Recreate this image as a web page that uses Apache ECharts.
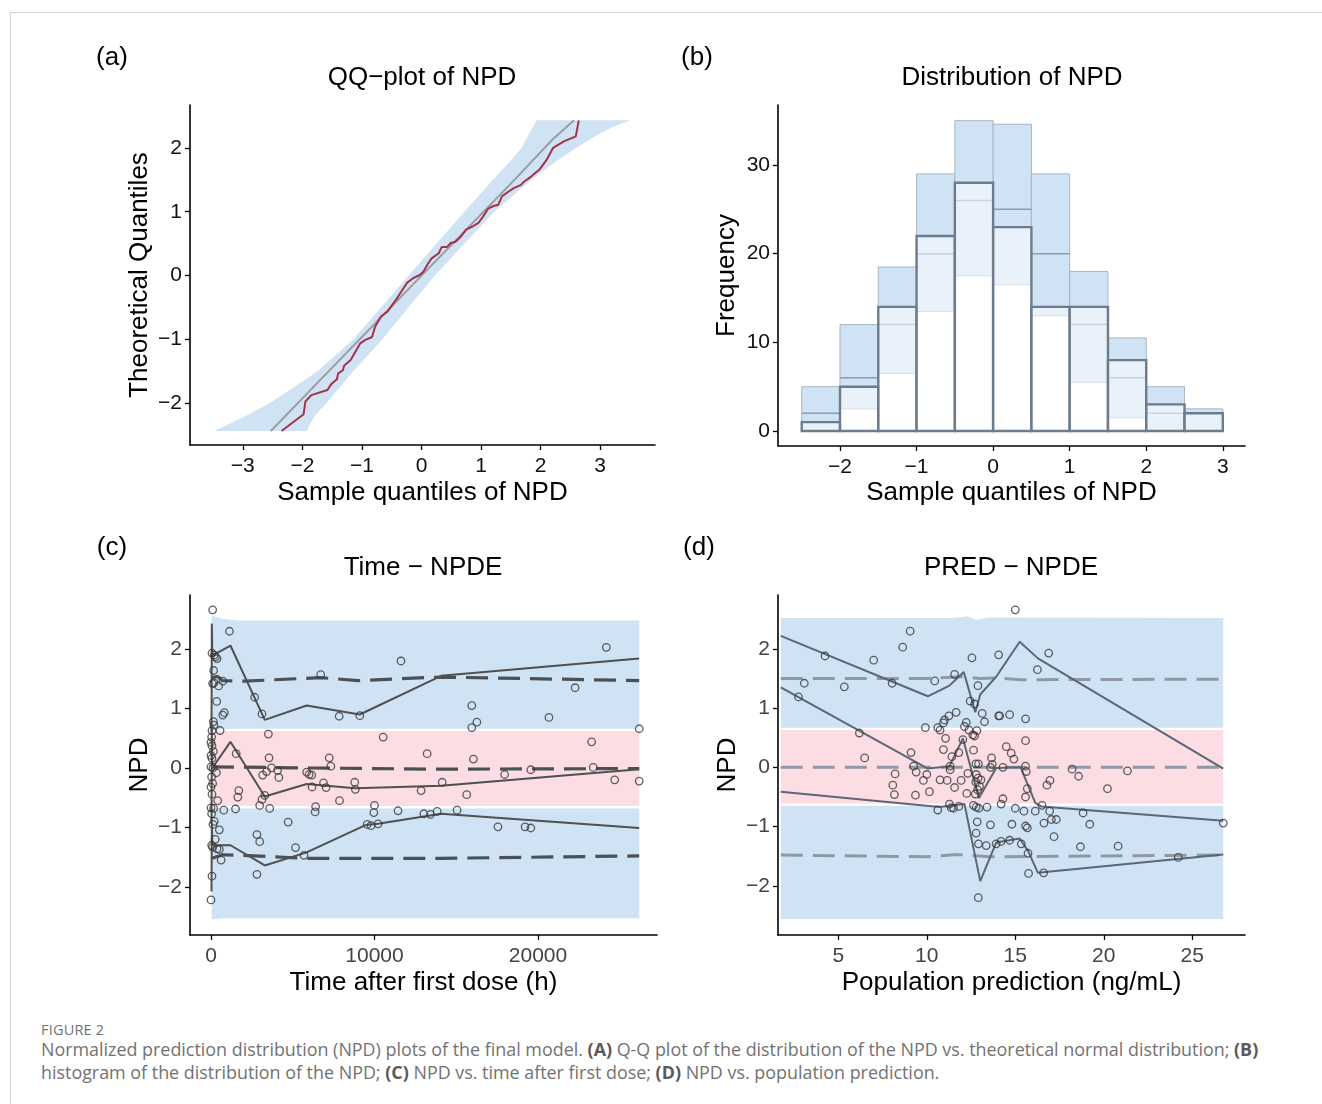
<!DOCTYPE html>
<html>
<head>
<meta charset="utf-8">
<title>NPD plots</title>
<script src="https://cdn.jsdelivr.net/npm/echarts@6/dist/echarts.min.js"></script>
<style>
  html, body { margin: 0; padding: 0; background: #fff; }
  #page { position: relative; width: 1322px; height: 1104px; overflow: hidden; }
  #frame { position: absolute; left: 10px; top: 12px; right: -2px; bottom: -2px;
    border-top: 1px solid #d4d4d4; border-left: 1px solid #d4d4d4; }
  #chart { position: absolute; left: 0; top: 0; width: 1322px; height: 1010px; }
  .cap { position: absolute; left: 41px; white-space: nowrap; color: #727272;
    font-family: "Open Sans", "Noto Sans", sans-serif; }
  .cap b { color: #5a5a5a; }
  #figno { top: 1020px; font-size: 14.5px; line-height: 20px; letter-spacing: 0.2px; }
  #line1 { top: 1037px; font-size: 17.9px; line-height: 25px; }
  #line2 { top: 1060px; font-size: 17.9px; line-height: 25px; }
</style>
</head>
<body>
<div id="page">
  <div id="frame"></div>
  <div id="chart"></div>
  <div class="cap" id="figno">FIGURE 2</div>
  <div class="cap" id="line1">Normalized prediction distribution (NPD) plots of the final model. <b>(A)</b> Q-Q plot of the distribution of the NPD vs. theoretical normal distribution; <b>(B)</b></div>
  <div class="cap" id="line2">histogram of the distribution of the NPD; <b>(C)</b> NPD vs. time after first dose; <b>(D)</b> NPD vs. population prediction.</div>
</div>
<script>
// ---- (a) QQ plot: [sample quantile, theoretical quantile]
const qqObserved = [
  [-2.35, -2.43], [-1.98, -2.17], [-1.95, -1.97], [-1.85, -1.87], [-1.58, -1.79], [-1.51, -1.69],
  [-1.42, -1.62], [-1.40, -1.53], [-1.32, -1.48], [-1.30, -1.41], [-1.19, -1.32], [-1.03, -1.06],
  [-0.95, -1.01], [-0.83, -0.96], [-0.78, -0.80], [-0.68, -0.64], [-0.57, -0.56], [-0.43, -0.38],
  [-0.36, -0.28], [-0.24, -0.11], [-0.14, -0.04], [-0.03, 0.01], [0.03, 0.06], [0.11, 0.19],
  [0.17, 0.27], [0.29, 0.35], [0.34, 0.45], [0.43, 0.45], [0.49, 0.51], [0.57, 0.53], [0.66, 0.61],
  [0.75, 0.72], [0.86, 0.77], [0.95, 0.82], [1.03, 0.92], [1.12, 1.05], [1.21, 1.09], [1.29, 1.11],
  [1.35, 1.24], [1.47, 1.32], [1.55, 1.37], [1.67, 1.42], [1.72, 1.47], [1.84, 1.55], [1.98, 1.66],
  [2.10, 1.81], [2.21, 2.00], [2.39, 2.10], [2.59, 2.18], [2.64, 2.43],
]
const qqMedian = [
  [-2.53, -2.43], [-1.5, -1.44], [-0.5, -0.48], [0, 0], [0.5, 0.48], [1.5, 1.44], [2.2, 2.13], [2.56, 2.43],
]
const qqBandLeft = [
  [-3.48, -2.43], [-3.0, -2.22], [-2.56, -2.0], [-2.2, -1.78], [-1.75, -1.5], [-1.45, -1.25], [-1.15, -1.0],
  [-0.68, -0.5], [-0.22, 0], [0.25, 0.5], [0.72, 1.0], [1.2, 1.5], [1.5, 1.8], [1.68, 2.0], [1.93, 2.43],
]
const qqBandRight = [
  [3.51, 2.43], [3.2, 2.32], [2.95, 2.2], [2.6, 2.0], [2.2, 1.75], [1.85, 1.5], [1.22, 1.0],
  [0.72, 0.5], [0.22, 0], [-0.22, -0.5], [-0.66, -1.0], [-1.15, -1.5], [-1.6, -2.0], [-1.8, -2.2], [-1.93, -2.43],
]

// ---- (b) histogram, bins of width 0.5
const binStart = [-2.5, -2, -1.5, -1, -0.5, 0, 0.5, 1, 1.5, 2, 2.5]
const binWidth = 0.5
const obsCount = [1, 5, 14, 22, 28, 23, 14, 14, 8, 3, 2]
const piLower = [0, 2.5, 6.5, 13.5, 17.5, 16.5, 13, 5.5, 1.5, 0, 0]
const piMedian = [2, 6, 12, 20, 26, 25, 20, 12, 6, 2, 2]
const piUpper = [5, 12, 18.5, 29, 35, 34.6, 29, 18, 10.5, 5, 2.5]

// ---- (c) NPD vs time after first dose: [time, npd]
const timePoints = [
  [100, 2.66], [1130, 2.30], [60, 1.93], [200, 1.90], [280, 1.87], [370, 1.84], [160, 1.64], [100, 1.42],
  [180, 1.43], [470, 1.38], [720, 1.46], [350, 1.12], [720, 0.89], [820, 0.93], [145, 0.78], [180, 0.72],
  [60, 0.63], [555, 0.63], [40, 0.52], [0, 0.43], [60, 0.37], [145, 0.28], [0, 0.21], [60, 0.16], [0, 0.02],
  [120, 0.0], [330, -0.08], [40, -0.15], [100, -0.26], [0, -0.32], [60, -0.44], [410, -0.55], [0, -0.67],
  [160, -0.68], [780, -0.71], [40, -0.77], [200, -0.90], [120, -0.95], [510, -1.04], [260, -1.20], [40, -1.30],
  [100, -1.33], [370, -1.36], [510, -1.37], [620, -1.55], [60, -1.82], [0, -2.22],
  [1540, 0.24], [1700, -0.38], [1640, -0.49], [1500, -0.69],
  [2670, 1.19], [3120, 0.91], [3510, 0.57], [3550, 0.17], [3160, -0.12], [3400, -0.06], [3700, 0.0],
  [4070, -0.04], [4150, -0.16], [2980, -0.63], [3120, -0.53], [3290, -0.46], [3590, -0.68], [2810, -1.12],
  [2980, -1.24], [2810, -1.79], [4720, -0.91], [5170, -1.34], [5690, -1.47],
  [6710, 1.57], [5850, -0.07], [6000, -0.11], [6160, -0.12], [6180, -0.32], [6400, -0.65], [6370, -0.74],
  [6880, -0.25], [7040, -0.33], [7230, 0.17], [7330, 0.03], [7840, 0.87], [7860, -0.55], [8790, -0.24],
  [8830, -0.36], [9100, 0.88], [9550, -0.95], [9790, -0.97], [10000, -0.63], [9960, -0.75], [10220, -0.94],
  [10530, 0.52], [11440, -0.72], [11620, 1.80],
  [24180, 2.03], [22270, 1.35], [15950, 1.05], [15950, 0.68], [16260, 0.77], [20670, 0.85], [26190, 0.66],
  [13220, 0.24], [16050, 0.15], [23280, 0.44], [23380, 0.01], [19560, -0.03], [17960, -0.11], [14140, -0.24],
  [12850, -0.38], [15640, -0.45], [24690, -0.20], [26190, -0.22], [13020, -0.77], [13420, -0.78],
  [13830, -0.73], [15050, -0.71], [17550, -0.99], [19210, -0.99], [19560, -1.01],
]
const timeUpper = [[30, 0.6], [50, 2.43], [80, 1.89], [1190, 2.06], [3290, 0.81], [5850, 1.05], [9100, 0.90], [14080, 1.55], [26190, 1.84]]
const timeMiddle = [[30, -0.9], [50, 0.7], [80, 0.0], [1190, 0.44], [3290, -0.48], [5850, -0.27], [8830, -0.34], [14080, -0.30], [26190, -0.02]]
const timeLower = [[30, -2.08], [50, -0.9], [80, -1.30], [1190, -1.30], [3290, -1.64], [5850, -1.42], [9450, -0.96], [10220, -0.94], [14080, -0.77], [26190, -1.01]]
const timeRefUpper = [[60, 1.52], [400, 1.54], [700, 1.47], [2000, 1.46], [6700, 1.52], [9000, 1.47], [14000, 1.53], [26190, 1.47]]
const timeRefMiddle = [[60, 0.02], [6000, 0.0], [14000, -0.02], [26190, -0.01]]
const timeRefLower = [[60, -1.52], [700, -1.46], [2000, -1.47], [5700, -1.52], [14000, -1.52], [26190, -1.48]]
const timeBandX = [40, 700, 1700, 26190]
const timeHiBandLow = [0.63, 0.65, 0.66, 0.66]
const timeHiBandHigh = [2.56, 2.51, 2.48, 2.48]
const timeMidBandLow = [-0.64, -0.64, -0.64, -0.64]
const timeMidBandHigh = [0.62, 0.62, 0.62, 0.62]
const timeLoBandLow = [-2.55, -2.53, -2.53, -2.53]
const timeLoBandHigh = [-0.68, -0.67, -0.68, -0.68]

// ---- (d) NPD vs population prediction: [pred, npd]
const predPoints = [
  [9.06, 2.30], [8.64, 2.03], [4.25, 1.88], [7.0, 1.81], [3.08, 1.42], [5.34, 1.36], [8.04, 1.42], [2.75, 1.19],
  [10.45, 1.46], [11.57, 1.57], [12.55, 1.85], [12.89, 1.38], [12.45, 1.12], [12.70, 1.07], [13.13, 0.91],
  [13.26, 0.77], [14.06, 0.87], [14.12, 0.87], [14.06, 1.90], [11.66, 0.93], [11.25, 0.87], [11.0, 0.80],
  [10.94, 0.75], [10.75, 0.63], [10.62, 0.67], [9.92, 0.67], [12.23, 0.76], [12.13, 0.69], [12.38, 0.63],
  [12.6, 0.55], [12.83, 0.62], [12.7, 0.53], [11.06, 0.49], [12.04, 0.47], [12.64, 0.29], [11.81, 0.25],
  [11.42, 0.18], [10.94, 0.30], [6.19, 0.58], [6.49, 0.16], [9.11, 0.25], [9.26, 0.02], [9.4, -0.08],
  [8.21, -0.11], [8.08, -0.30], [8.17, -0.46], [9.81, -0.22], [10.0, -0.12], [9.36, -0.47], [10.15, -0.41],
  [10.75, -0.21], [11.15, -0.22], [11.32, 0.02], [11.32, -0.04], [11.57, -0.34], [11.94, -0.22], [12.32, -0.10],
  [12.26, -0.44], [12.77, 0.06], [12.92, 0.06], [12.79, -0.12], [12.90, -0.18], [12.77, -0.25], [13.06, -0.21],
  [12.98, -0.32], [12.87, -0.38], [12.74, -0.45], [13.7, 0.05], [13.66, 0.16], [13.6, 0.0], [14.3, 0.0],
  [13.4, -0.67], [12.64, -0.64], [12.79, -0.67], [12.94, -0.69], [10.62, -0.72], [11.28, -0.62],
  [11.38, -0.68], [11.51, -0.69], [11.81, -0.66], [12.85, -0.92], [12.79, -1.11], [13.6, -0.97], [12.92, -1.29],
  [13.36, -1.32], [13.92, -1.29], [14.2, -1.25], [12.91, -2.20],
  [15.0, 2.66], [16.89, 1.93], [16.25, 1.65], [14.68, 0.89], [15.58, 0.82], [15.58, 0.45], [14.49, 0.35],
  [14.77, 0.24], [14.92, 0.14], [15.58, 0.02], [15.62, -0.07], [18.21, -0.03], [18.58, -0.15], [21.34, -0.06],
  [16.96, -0.22], [16.79, -0.30], [20.21, -0.36], [15.68, -0.36], [15.58, -0.50], [14.3, -0.53], [14.2, -0.62],
  [15.0, -0.69], [15.49, -0.74], [16.13, -0.74], [16.51, -0.64], [16.94, -0.74], [18.83, -0.77], [14.81, -0.96],
  [15.58, -0.99], [15.68, -1.02], [16.62, -0.94], [17.04, -0.88], [17.32, -0.88], [19.21, -0.96], [17.19, -1.17],
  [14.68, -1.23], [15.34, -1.29], [15.72, -1.45], [15.75, -1.79], [16.6, -1.78], [18.68, -1.34], [20.81, -1.33],
  [24.21, -1.52], [26.75, -0.94],
]
const predUpper = [[1.75, 2.22], [10.06, 1.20], [11.28, 1.38], [12.09, 1.61], [12.74, 0.93], [13.02, 1.23], [13.92, 1.53], [15.25, 2.12], [16.28, 1.84], [26.75, -0.02]]
const predMiddle = [[1.75, 1.35], [10.06, -0.02], [11.28, 0.02], [12.04, 0.49], [12.94, -0.52], [13.92, -0.01], [15.3, 0.0], [16.13, -0.60], [16.47, -0.66], [26.75, -0.90]]
const predLower = [[1.75, -0.41], [10.72, -0.67], [12.13, -0.62], [13.02, -1.92], [13.92, -1.27], [15.25, -1.20], [15.72, -1.41], [16.28, -1.78], [26.75, -1.47]]
const predRefUpper = [[1.75, 1.50], [10, 1.50], [12.0, 1.53], [13, 1.50], [14, 1.51], [15.3, 1.48], [26.75, 1.49]]
const predRefMiddle = [[1.75, 0.0], [26.75, 0.0]]
const predRefLower = [[1.75, -1.48], [10, -1.51], [11.7, -1.47], [13.5, -1.51], [26.75, -1.48]]
const predBandX = [1.75, 11.5, 12.3, 12.8, 13.5, 26.75]
const predHiBandLow = [0.67, 0.67, 0.67, 0.67, 0.67, 0.67]
const predHiBandHigh = [2.52, 2.52, 2.55, 2.49, 2.53, 2.52]
const predMidBandLow = [-0.61, -0.61, -0.61, -0.61, -0.61, -0.61]
const predMidBandHigh = [0.63, 0.63, 0.63, 0.63, 0.63, 0.63]
const predLoBandLow = [-2.56, -2.56, -2.56, -2.56, -2.56, -2.56]
const predLoBandHigh = [-0.65, -0.65, -0.65, -0.65, -0.65, -0.65]

// ---- ticks
const qqXTicks = [-3, -2, -1, 0, 1, 2, 3]
const qqYTicks = [-2, -1, 0, 1, 2]
const histXTicks = [-2, -1, 0, 1, 2, 3]
const histYTicks = [0, 10, 20, 30]
const timeXTicks = [0, 10000, 20000]
const npdTicks = [-2, -1, 0, 1, 2]
const predXTicks = [5, 10, 15, 20, 25]

const FONT = '"Liberation Sans", Arial, Helvetica, sans-serif'
const BLUE = '#cfe3f5'
const PINK = '#fcdde3'
const TITLE_SIZE = 26
const TICK_SIZE = 21

function minusLabel(v) {
  return v < 0 ? '\u2212' + Math.abs(v) : String(v)
}

function makeAxis(gridIndex, min, max, ticks, name, nameGap, labelColor, isY) {
  return {
    type: 'value',
    gridIndex,
    min,
    max,
    name,
    nameLocation: 'middle',
    nameGap,
    nameTextStyle: { fontFamily: FONT, fontSize: TITLE_SIZE, color: '#000' },
    axisLine: { show: true, onZero: false, lineStyle: { color: '#000', width: 1.6 } },
    axisTick: { show: true, length: 5, customValues: ticks, lineStyle: { color: '#000', width: 1.3 } },
    axisLabel: {
      customValues: ticks,
      formatter: minusLabel,
      fontFamily: FONT,
      fontSize: TICK_SIZE,
      color: labelColor,
      margin: isY ? 8 : 11,
    },
    splitLine: { show: false },
  }
}

// polygon drawn from data coordinates
function polygonSeries(axisIndex, points, color, z) {
  return {
    type: 'custom',
    xAxisIndex: axisIndex,
    yAxisIndex: axisIndex,
    z,
    silent: true,
    data: [0],
    renderItem: (params, api) => ({
      type: 'polygon',
      shape: { points: points.map((p) => api.coord(p)) },
      style: { fill: color },
    }),
  }
}

function bandPoints(xs, lows, highs) {
  const top = xs.map((x, i) => [x, highs[i]])
  const bottom = xs.map((x, i) => [x, lows[i]]).reverse()
  return top.concat(bottom)
}

function lineSeries(axisIndex, data, color, width, dashed, z) {
  return {
    type: 'line',
    xAxisIndex: axisIndex,
    yAxisIndex: axisIndex,
    data,
    z,
    showSymbol: false,
    silent: true,
    animation: false,
    lineStyle: { color, width, type: dashed ? [22, 10] : 'solid' },
  }
}

function scatterSeries(axisIndex, data) {
  return {
    type: 'scatter',
    xAxisIndex: axisIndex,
    yAxisIndex: axisIndex,
    data,
    z: 6,
    symbol: 'circle',
    symbolSize: 7.5,
    silent: true,
    itemStyle: { color: 'rgba(255,255,255,0)', borderColor: '#3a3a3a', borderWidth: 1.3 },
  }
}

function histSeries(kind) {
  return {
    type: 'custom',
    xAxisIndex: 1,
    yAxisIndex: 1,
    z: kind === 'obs' ? 4 : kind === 'med' ? 3 : 2,
    silent: true,
    data: binStart.map((b, i) => [b, piLower[i], piMedian[i], piUpper[i], obsCount[i]]),
    renderItem(params, api) {
      const x0 = api.value(0)
      const x1 = x0 + binWidth
      if (kind === 'pi') {
        const a = api.coord([x0, api.value(3)])
        const b = api.coord([x1, api.value(1)])
        return {
          type: 'rect',
          shape: { x: a[0], y: a[1], width: b[0] - a[0], height: b[1] - a[1] },
          style: { fill: BLUE, stroke: '#a9b6c4', lineWidth: 1 },
        }
      }
      if (kind === 'med') {
        const a = api.coord([x0, api.value(2)])
        const b = api.coord([x1, api.value(2)])
        return {
          type: 'line',
          shape: { x1: a[0], y1: a[1], x2: b[0], y2: b[1] },
          style: { stroke: '#8e9cab', lineWidth: 1.5 },
        }
      }
      const a = api.coord([x0, api.value(4)])
      const b = api.coord([x1, 0])
      return {
        type: 'rect',
        shape: { x: a[0], y: a[1], width: b[0] - a[0], height: b[1] - a[1] },
        style: { fill: 'rgba(255,255,255,0.55)', stroke: '#6d7c8c', lineWidth: 2.4 },
      }
    },
  }
}

function label(text, x, y) {
  return {
    type: 'text',
    x,
    y,
    silent: true,
    style: {
      text,
      fill: '#000',
      font: TITLE_SIZE + 'px ' + FONT,
      align: 'center',
      verticalAlign: 'middle',
    },
  }
}

const chart = echarts.init(document.getElementById('chart'), null, { renderer: 'canvas' })

chart.setOption({
  animation: false,
  backgroundColor: 'transparent',
  grid: [
    { left: 190, top: 105, width: 465, height: 340 },
    { left: 778, top: 105, width: 467, height: 341 },
    { left: 190, top: 595, width: 467, height: 340 },
    { left: 778, top: 595, width: 467, height: 340 },
  ],
  xAxis: [
    makeAxis(0, -3.887, 3.92, qqXTicks, 'Sample quantiles of NPD', 35, '#111', false),
    makeAxis(1, -2.81, 3.29, histXTicks, 'Sample quantiles of NPD', 34, '#111', false),
    makeAxis(2, -1284, 27278, timeXTicks, 'Time after first dose (h)', 35, '#444', false),
    makeAxis(3, 1.593, 27.98, predXTicks, 'Population prediction (ng/mL)', 35, '#444', false),
  ],
  yAxis: [
    makeAxis(0, -2.65, 2.67, qqYTicks, 'Theoretical Quantiles', 37, '#111', true),
    makeAxis(1, -1.69, 36.77, histYTicks, 'Frequency', 38, '#111', true),
    makeAxis(2, -2.81, 2.91, npdTicks, 'NPD', 37, '#444', true),
    makeAxis(3, -2.83, 2.91, npdTicks, 'NPD', 37, '#444', true),
  ],
  graphic: [
    label('(a)', 112, 58),
    label('QQ\u2212plot of NPD', 422, 78),
    label('(b)', 697, 58),
    label('Distribution of NPD', 1012, 78),
    label('(c)', 112, 548),
    label('Time \u2212 NPDE', 423, 568),
    label('(d)', 699, 548),
    label('PRED \u2212 NPDE', 1011, 568),
  ],
  series: [
    // (a)
    polygonSeries(0, qqBandLeft.concat(qqBandRight), BLUE, 1),
    lineSeries(0, qqMedian, '#9d9d9d', 2, false, 3),
    lineSeries(0, qqObserved, '#a3324b', 2, false, 4),
    // (b)
    histSeries('pi'),
    histSeries('med'),
    histSeries('obs'),
    // (c)
    polygonSeries(2, bandPoints(timeBandX, timeHiBandLow, timeHiBandHigh), BLUE, 1),
    polygonSeries(2, bandPoints(timeBandX, timeMidBandLow, timeMidBandHigh), PINK, 1),
    polygonSeries(2, bandPoints(timeBandX, timeLoBandLow, timeLoBandHigh), BLUE, 1),
    lineSeries(2, timeRefUpper, '#4b5057', 3.2, true, 3),
    lineSeries(2, timeRefMiddle, '#4b5057', 3.2, true, 3),
    lineSeries(2, timeRefLower, '#4b5057', 3.2, true, 3),
    lineSeries(2, timeUpper, '#505050', 2, false, 4),
    lineSeries(2, timeMiddle, '#505050', 2, false, 4),
    lineSeries(2, timeLower, '#505050', 2, false, 4),
    scatterSeries(2, timePoints),
    // (d)
    polygonSeries(3, bandPoints(predBandX, predHiBandLow, predHiBandHigh), BLUE, 1),
    polygonSeries(3, bandPoints(predBandX, predMidBandLow, predMidBandHigh), PINK, 1),
    polygonSeries(3, bandPoints(predBandX, predLoBandLow, predLoBandHigh), BLUE, 1),
    lineSeries(3, predRefUpper, '#8f99a6', 3, true, 3),
    lineSeries(3, predRefMiddle, '#8f99a6', 3, true, 3),
    lineSeries(3, predRefLower, '#8f99a6', 3, true, 3),
    lineSeries(3, predUpper, '#5b6776', 2, false, 4),
    lineSeries(3, predMiddle, '#5b6776', 2, false, 4),
    lineSeries(3, predLower, '#5b6776', 2, false, 4),
    scatterSeries(3, predPoints),
  ],
})
</script>
</body>
</html>
